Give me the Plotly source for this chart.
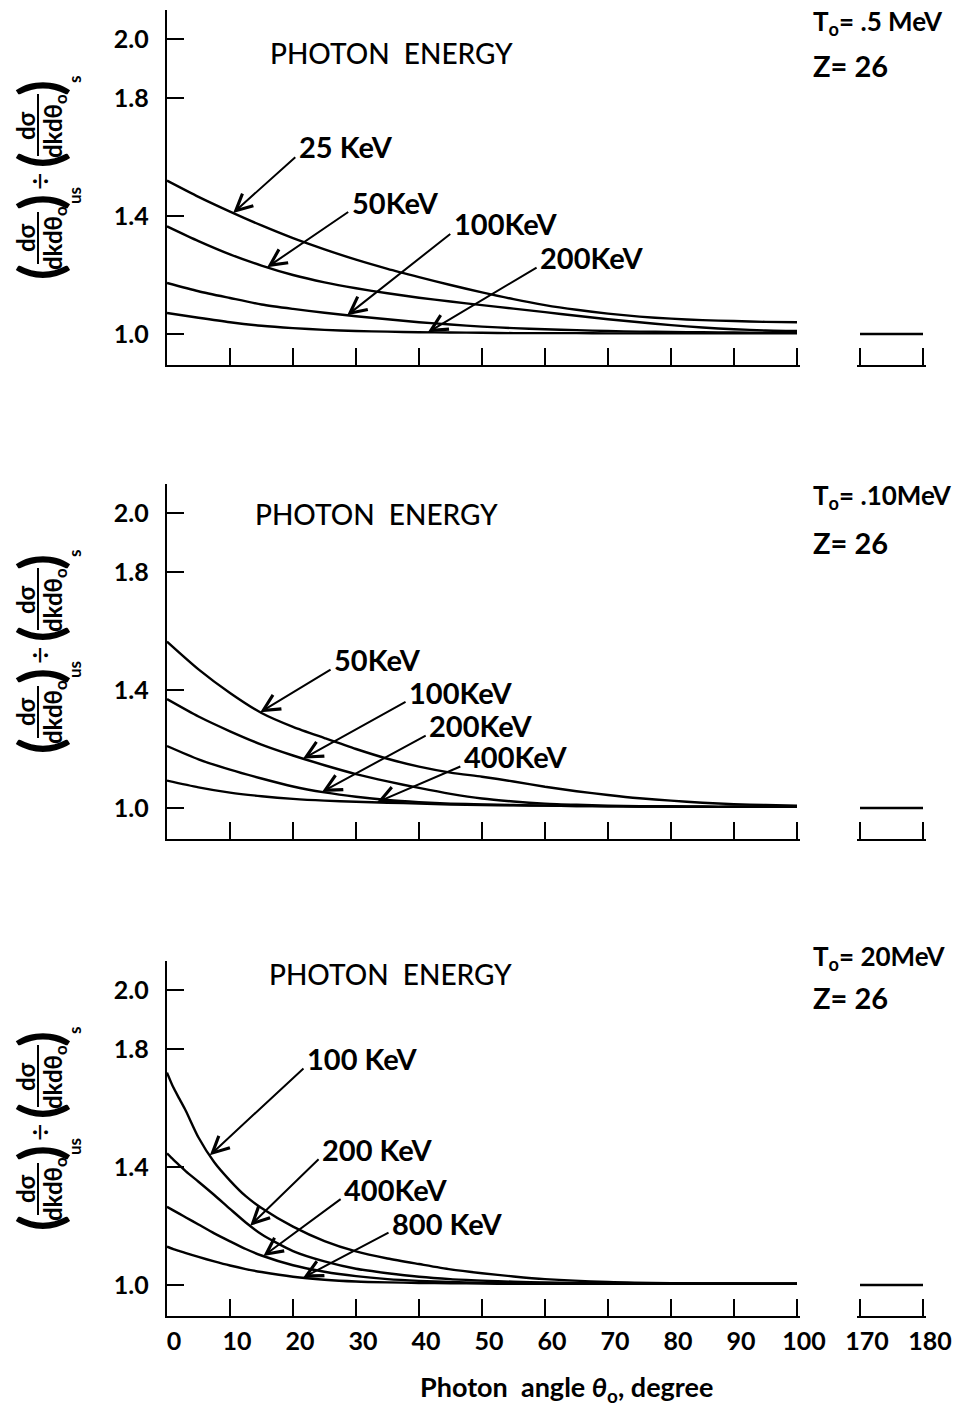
import numpy as np
import plotly.graph_objects as go

# ---------------- data ----------------
# Photon angle grid (degrees) for each panel
angles_p1 = [0, 5, 10, 15, 20, 25, 30, 35, 40, 45, 50, 55, 60, 65, 70, 75, 80, 85, 90, 95, 100]
angles_p2 = [0, 5, 10, 15, 20, 25, 30, 35, 40, 45, 50, 55, 60, 65, 70, 75, 80, 85, 90, 95, 100]
angles_p3 = [0, 1, 2, 3, 5, 7.5, 10, 12.5, 15, 20, 25, 30, 35, 40, 45, 50, 55, 60, 70, 80, 90, 100]
back_angles = [170, 180]

# T0 = .5 MeV, Z = 26
p1_labels = ["25 KeV", "50KeV", "100KeV", "200KeV"]
p1_25 = [1.52, 1.465, 1.415, 1.368, 1.325, 1.287, 1.252, 1.221, 1.193, 1.166, 1.141,
         1.118, 1.098, 1.082, 1.069, 1.059, 1.052, 1.047, 1.044, 1.041, 1.04]
p1_50 = [1.365, 1.315, 1.27, 1.232, 1.2, 1.175, 1.155, 1.138, 1.123, 1.11, 1.098,
         1.086, 1.074, 1.062, 1.05, 1.04, 1.03, 1.022, 1.016, 1.012, 1.01]
p1_100 = [1.173, 1.145, 1.122, 1.10, 1.085, 1.072, 1.06, 1.05, 1.04, 1.032, 1.025,
          1.02, 1.016, 1.013, 1.01, 1.008, 1.007, 1.006, 1.005, 1.004, 1.004]
p1_200 = [1.071, 1.055, 1.04, 1.028, 1.02, 1.014, 1.01, 1.008, 1.006, 1.005, 1.004,
          1.003, 1.003, 1.003, 1.002, 1.002, 1.002, 1.002, 1.002, 1.002, 1.002]
p1_back = [1.0, 1.0]

# T0 = .10 MeV, Z = 26
p2_labels = ["50KeV", "100KeV", "200KeV", "400KeV"]
p2_50 = [1.564, 1.47, 1.39, 1.322, 1.275, 1.237, 1.2, 1.167, 1.14, 1.12, 1.106,
         1.09, 1.072, 1.057, 1.044, 1.033, 1.025, 1.018, 1.013, 1.01, 1.008]
p2_100 = [1.369, 1.31, 1.26, 1.215, 1.178, 1.145, 1.115, 1.09, 1.068, 1.048, 1.032,
          1.022, 1.015, 1.011, 1.008, 1.006, 1.005, 1.004, 1.004, 1.004, 1.004]
p2_200 = [1.21, 1.165, 1.13, 1.1, 1.073, 1.053, 1.038, 1.027, 1.02, 1.015, 1.012,
          1.01, 1.008, 1.007, 1.006, 1.005, 1.005, 1.004, 1.004, 1.004, 1.004]
p2_400 = [1.093, 1.07, 1.052, 1.04, 1.031, 1.025, 1.021, 1.018, 1.015, 1.012, 1.01,
          1.009, 1.008, 1.007, 1.006, 1.005, 1.005, 1.004, 1.004, 1.004, 1.004]
p2_back = [1.0, 1.0]

# T0 = 20 MeV, Z = 26
p3_labels = ["100 KeV", "200 KeV", "400KeV", "800 KeV"]
p3_100 = [1.72, 1.67, 1.63, 1.59, 1.50, 1.416, 1.354, 1.301, 1.261, 1.198, 1.149,
          1.114, 1.09, 1.071, 1.053, 1.04, 1.029, 1.02, 1.01, 1.006, 1.005, 1.004]
p3_200 = [1.446, 1.425, 1.405, 1.385, 1.35, 1.305, 1.258, 1.212, 1.172, 1.115, 1.08,
          1.055, 1.04, 1.028, 1.02, 1.015, 1.011, 1.009, 1.006, 1.005, 1.004, 1.004]
p3_400 = [1.265, 1.253, 1.241, 1.229, 1.205, 1.175, 1.148, 1.122, 1.10, 1.067, 1.045,
          1.03, 1.02, 1.014, 1.01, 1.008, 1.006, 1.005, 1.004, 1.004, 1.004, 1.004]
p3_800 = [1.13, 1.122, 1.115, 1.108, 1.095, 1.08, 1.066, 1.054, 1.044, 1.028, 1.018,
          1.012, 1.009, 1.007, 1.006, 1.005, 1.004, 1.004, 1.004, 1.004, 1.004, 1.004]
p3_back = [1.0, 1.0]

panel_titles = ["T<sub>o</sub>= .5 MeV", "T<sub>o</sub>= .10MeV", "T<sub>o</sub>= 20MeV"]
z_text = "Z= 26"
y_ticks = [1.0, 1.4, 1.8, 2.0]
y_ticktext = ["1.0", "1.4", "1.8", "2.0"]
x_ticks = [0, 10, 20, 30, 40, 50, 60, 70, 80, 90, 100]
x_back_ticks = [170, 180]

# arrow tip angle on each curve, and label anchor (angle, ratio) for each panel
p1_tip = [10.5, 15.9, 28.6, 41.4]
p1_lab = [(20.6, 1.634), (29.0, 1.447), (45.2, 1.373), (58.9, 1.258)]
p2_tip = [14.8, 21.6, 24.6, 33.3]
p2_lab = [(26.2, 1.502), (38.1, 1.393), (41.3, 1.278), (46.8, 1.173)]
p3_tip = [6.8, 13.2, 15.3, 21.6]
p3_lab = [(21.9, 1.769), (24.3, 1.461), (27.8, 1.325), (35.4, 1.210)]

# ---------------- geometry ----------------
W, H = 963, 1414
PX = 295.0                     # pixels per unit of ratio
DEG = 6.3                      # pixels per degree of angle
ONE_PX = [334, 808, 1285]      # pixel row of ratio 1.0 in each panel
Y_LO, Y_HI = 0.895, 2.1
PAD = 3                        # extra pixels so the end ticks are kept
X0_MAIN, X0_BACK = 167, 860    # pixel column of 0 deg and of 170 deg
X_MAIN = [X0_MAIN / W, (X0_MAIN + 100 * DEG + PAD) / W]
R_MAIN = [0, 100 + PAD / DEG]
X_BACK = [(X0_BACK - PAD) / W, (X0_BACK + 10 * DEG + PAD) / W]
R_BACK = [170 - PAD / DEG, 180 + PAD / DEG]

FONT = "Lato"
INK = "black"
LW = 2.4

fig = go.Figure()

panels = [
    (angles_p1, [p1_25, p1_50, p1_100, p1_200], p1_back, p1_labels, p1_tip, p1_lab),
    (angles_p2, [p2_50, p2_100, p2_200, p2_400], p2_back, p2_labels, p2_tip, p2_lab),
    (angles_p3, [p3_100, p3_200, p3_400, p3_800], p3_back, p3_labels, p3_tip, p3_lab),
]

annotations = []
shapes = []

for i, (ang, curves, back, labels, tips, labpos) in enumerate(panels):
    xm = "x" if i == 0 else f"x{2 * i + 1}"
    xb = f"x{2 * i + 2}"
    ya = "y" if i == 0 else f"y{i + 1}"
    xm_key = "xaxis" if i == 0 else f"xaxis{2 * i + 1}"
    xb_key = f"xaxis{2 * i + 2}"
    ya_key = "yaxis" if i == 0 else f"yaxis{i + 1}"

    bottom_px = ONE_PX[i] + (1 - Y_LO) * PX
    top_px = ONE_PX[i] - (Y_HI - 1) * PX
    ydom = [1 - bottom_px / H, 1 - top_px / H]
    last = i == 2

    for c in curves:
        fig.add_trace(go.Scatter(x=ang, y=c, mode="lines", xaxis=xm, yaxis=ya,
                                 line=dict(color=INK, width=LW, shape="spline", smoothing=0.7),
                                 cliponaxis=False, showlegend=False, hoverinfo="skip"))
    fig.add_trace(go.Scatter(x=back_angles, y=back, mode="lines", xaxis=xb, yaxis=ya,
                             line=dict(color=INK, width=LW), cliponaxis=False,
                             showlegend=False, hoverinfo="skip"))

    common_x = dict(showline=True, linewidth=LW, linecolor=INK, ticks="inside", ticklen=17,
                    tickwidth=LW, tickcolor=INK, showgrid=False, zeroline=False,
                    showticklabels=last, ticklabelstandoff=2, ticklabelshift=7,
                    automargin=False,
                    tickfont=dict(family=FONT, size=25, color=INK, weight=700), anchor=ya)
    fig.update_layout(**{
        xm_key: dict(domain=X_MAIN, range=R_MAIN, tickvals=x_ticks, **common_x),
        xb_key: dict(domain=X_BACK, range=R_BACK, tickvals=x_back_ticks, **common_x),
        ya_key: dict(domain=ydom, range=[Y_LO, Y_HI], anchor=xm, showline=True, linewidth=LW,
                     linecolor=INK, ticks="inside", ticklen=17, tickwidth=LW, tickcolor=INK,
                     tickvals=y_ticks, ticktext=y_ticktext, showgrid=False, zeroline=False,
                     ticklabelstandoff=11, automargin=False,
                     tickfont=dict(family=FONT, size=25, color=INK, weight=700)),
    })

    # energy labels with arrows pointing onto the curves
    for c, lab, tip, (lx, ly) in zip(curves, labels, tips, labpos):
        tip_y = float(np.interp(tip, ang, c))
        annotations.append(dict(x=tip, y=tip_y, xref=xm, yref=ya, ax=lx, ay=ly - 0.03,
                                axref=xm, ayref=ya, text="", showarrow=True, arrowhead=5,
                                arrowsize=1.6, arrowwidth=2, arrowcolor=INK, standoff=0))
        annotations.append(dict(x=lx, y=ly, xref=xm, yref=ya, text=lab, showarrow=False,
                                xanchor="left", yanchor="middle",
                                font=dict(family=FONT, size=29, color=INK, weight=700)))

    # panel heading
    pe_y = [1.953, 1.997, 2.054][i]
    pe_x = [35.6, 33.2, 35.4][i]
    annotations.append(dict(x=pe_x, y=pe_y, xref=xm, yref=ya, text="PHOTON  ENERGY",
                            showarrow=False, xanchor="center", yanchor="middle",
                            font=dict(family=FONT, size=28, color=INK, weight=500)))

    # T0 and Z in the upper right
    t_py = [23, 496, 957][i]
    z_py = [66, 542, 998][i]
    annotations.append(dict(x=811 / W, y=1 - t_py / H, xref="paper", yref="paper",
                            text=panel_titles[i], showarrow=False, xanchor="left",
                            yanchor="middle", font=dict(family=FONT, size=26, color=INK, weight=700)))
    annotations.append(dict(x=811 / W, y=1 - z_py / H, xref="paper", yref="paper",
                            text=z_text, showarrow=False, xanchor="left", yanchor="middle",
                            font=dict(family=FONT, size=29, color=INK, weight=700)))

    # y-axis title: (dσ/dkdθo)us ÷ (dσ/dkdθo)s, set vertically
    yc = 1 + 162 / PX

    def Y(s):
        return yc + s / PX

    lab_font = dict(family=FONT, size=24, color=INK, weight=700)
    par_font = dict(family=FONT, size=58, color=INK, weight=700)
    pieces = [
        ("(", 38, -100, par_font),
        ("dσ", 25, -66, lab_font),
        ("dkdθ<sub>o</sub>", 54, -66, lab_font),
        (")", 38, -30, par_font),
        ("<span style='font-size:17px'>us</span>", 74, -24, lab_font),
        ("÷", 39, -10, dict(family=FONT, size=30, color=INK)),
        ("(", 38, 12, par_font),
        ("dσ", 25, 46, lab_font),
        ("dkdθ<sub>o</sub>", 54, 46, lab_font),
        (")", 38, 84, par_font),
        ("<span style='font-size:17px'>s</span>", 74, 92, lab_font),
    ]
    for txt, px, s, f in pieces:
        annotations.append(dict(x=px / W, y=Y(s), xref="paper", yref=ya, text=txt,
                                showarrow=False, textangle=-90, xanchor="center",
                                yanchor="middle", font=f))
    for s0, s1 in [(-92, -40), (16, 78)]:
        shapes.append(dict(type="line", xref="paper", yref=ya, x0=38 / W, x1=38 / W,
                           y0=Y(s0), y1=Y(s1), line=dict(color=INK, width=2)))

# x-axis title
annotations.append(dict(x=566 / W, y=1 - 1388 / H, xref="paper", yref="paper",
                        text="Photon  angle <i>θ</i><sub>o</sub>, degree", showarrow=False,
                        xanchor="center", yanchor="middle",
                        font=dict(family=FONT, size=27, color=INK, weight=700)))

fig.update_layout(width=W, height=H, margin=dict(l=0, r=0, t=0, b=0),
                  paper_bgcolor="white", plot_bgcolor="white",
                  annotations=annotations, shapes=shapes, showlegend=False)

fig.write_html("out.html")
